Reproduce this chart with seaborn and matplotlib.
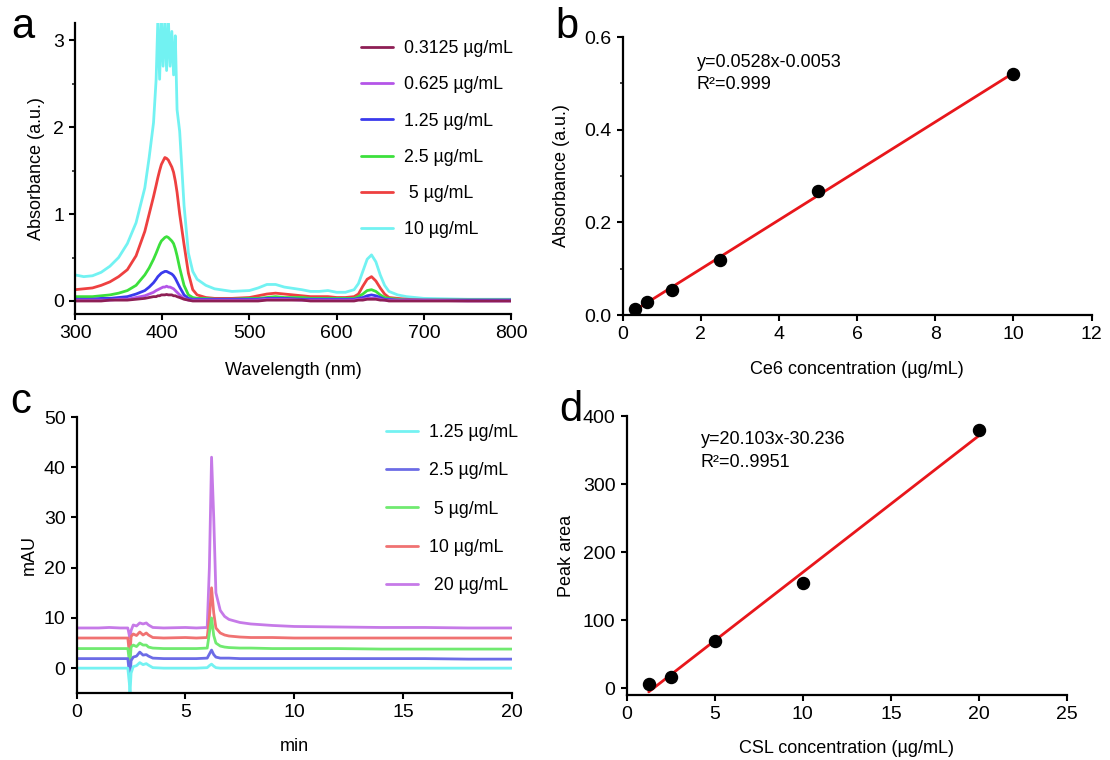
import numpy as np
import pandas as pd
import matplotlib
matplotlib.use("Agg")
import matplotlib.pyplot as plt
import seaborn as sns
from matplotlib.ticker import MultipleLocator

# ---- panel a: UV-vis spectra of Ce6 ----
wavelength = [300, 310, 320, 330, 340, 350, 360, 370, 380, 385,
              390, 393, 395, 397, 399, 401, 403, 405, 407, 409,
              411, 413, 415, 417, 420, 425, 430, 435, 440, 450,
              460, 480, 500, 510, 520, 530, 540, 560, 570, 580,
              590, 600, 610, 620, 625, 630, 635, 640, 645, 650,
              655, 660, 670, 680, 700, 750, 800]
abs_10 = [0.30, 0.28, 0.29, 0.33, 0.40, 0.50, 0.66, 0.90, 1.30, 1.65,
          2.05, 2.55, 3.25, 2.55, 3.25, 2.70, 3.25, 2.65, 3.25, 2.70,
          3.10, 2.60, 3.05, 2.20, 1.95, 1.10, 0.55, 0.34, 0.25, 0.18,
          0.14, 0.11, 0.12, 0.15, 0.19, 0.19, 0.16, 0.13, 0.11, 0.11,
          0.12, 0.10, 0.10, 0.13, 0.20, 0.34, 0.48, 0.53, 0.45, 0.30,
          0.18, 0.11, 0.07, 0.05, 0.03, 0.02, 0.02]
abs_5 = [0.13, 0.14, 0.15, 0.18, 0.22, 0.28, 0.36, 0.52, 0.80, 1.00,
         1.20, 1.33, 1.42, 1.50, 1.57, 1.61, 1.65, 1.64, 1.62, 1.58,
         1.54, 1.48, 1.38, 1.25, 1.00, 0.65, 0.32, 0.13, 0.07, 0.04,
         0.03, 0.03, 0.04, 0.06, 0.08, 0.09, 0.08, 0.06, 0.05, 0.05,
         0.05, 0.04, 0.04, 0.05, 0.08, 0.17, 0.25, 0.28, 0.23, 0.15,
         0.08, 0.04, 0.03, 0.02, 0.01, 0.01, 0.01]
abs_2_5 = [0.05, 0.05, 0.05, 0.06, 0.07, 0.09, 0.12, 0.18, 0.30, 0.38,
           0.48, 0.55, 0.60, 0.65, 0.69, 0.71, 0.73, 0.74, 0.73, 0.71,
           0.69, 0.66, 0.60, 0.52, 0.38, 0.18, 0.07, 0.04, 0.03, 0.03,
           0.02, 0.02, 0.03, 0.03, 0.04, 0.05, 0.04, 0.04, 0.03, 0.03,
           0.03, 0.03, 0.03, 0.03, 0.05, 0.08, 0.12, 0.13, 0.11, 0.07,
           0.04, 0.03, 0.02, 0.01, 0.01, 0.01, 0.01]
abs_1_25 = [0.02, 0.02, 0.02, 0.03, 0.03, 0.04, 0.05, 0.08, 0.12, 0.16,
            0.21, 0.25, 0.28, 0.30, 0.32, 0.33, 0.34, 0.34, 0.33, 0.32,
            0.31, 0.29, 0.26, 0.22, 0.16, 0.07, 0.03, 0.02, 0.02, 0.02,
            0.02, 0.02, 0.02, 0.02, 0.03, 0.03, 0.03, 0.02, 0.02, 0.02,
            0.02, 0.02, 0.02, 0.02, 0.03, 0.04, 0.06, 0.07, 0.06, 0.04,
            0.02, 0.02, 0.01, 0.01, 0.01, 0.01, 0.01]
abs_0_625 = [0.01, 0.01, 0.01, 0.01, 0.01, 0.02, 0.02, 0.04, 0.06, 0.08,
             0.10, 0.12, 0.13, 0.14, 0.15, 0.16, 0.16, 0.17, 0.16, 0.16,
             0.15, 0.14, 0.12, 0.10, 0.07, 0.03, 0.01, 0.01, 0.01, 0.01,
             0.01, 0.01, 0.01, 0.01, 0.02, 0.02, 0.02, 0.01, 0.01, 0.01,
             0.01, 0.01, 0.01, 0.01, 0.02, 0.02, 0.03, 0.03, 0.03, 0.02,
             0.01, 0.01, 0.01, 0.01, 0.01, 0.00, 0.00]
abs_0_3125 = [0.00, 0.00, 0.00, 0.00, 0.01, 0.01, 0.01, 0.02, 0.03, 0.04,
              0.05, 0.05, 0.06, 0.06, 0.07, 0.07, 0.07, 0.075, 0.07, 0.07,
              0.07, 0.06, 0.06, 0.05, 0.04, 0.02, 0.01, 0.00, 0.00, 0.00,
              0.00, 0.00, 0.00, 0.00, 0.01, 0.01, 0.01, 0.01, 0.00, 0.00,
              0.00, 0.00, 0.00, 0.00, 0.01, 0.01, 0.02, 0.02, 0.02, 0.01,
              0.01, 0.00, 0.00, 0.00, 0.00, 0.00, 0.00]
spec_labels = ["0.3125 µg/mL", "0.625 µg/mL", "1.25 µg/mL", "2.5 µg/mL", " 5 µg/mL", "10 µg/mL"]
spec_values = [abs_0_3125, abs_0_625, abs_1_25, abs_2_5, abs_5, abs_10]
spec_colors = ["#8e1f55", "#b455e8", "#3a3aec", "#3ce03c", "#ee4040", "#72f2f2"]

# ---- panel b: Ce6 standard curve ----
ce6_conc = [0.3125, 0.625, 1.25, 2.5, 5, 10]
ce6_abs = [0.013, 0.029, 0.055, 0.119, 0.267, 0.520]

# ---- panel c: HPLC chromatograms ----
time_min = [0, 1, 1.5, 2, 2.35, 2.42, 2.45, 2.5, 2.6, 2.75,
            2.9, 3.05, 3.2, 3.3, 3.5, 4, 5, 5.5, 6.0, 6.1,
            6.2, 6.3, 6.4, 6.6, 6.8, 7, 7.5, 8, 9, 10,
            12, 14, 16, 18, 20]
mau_20 = [8.0, 8.0, 8.1, 8.0, 8.0, 6.5, 6.0, 7.5, 8.6, 8.4,
          9.0, 8.8, 9.0, 8.6, 8.1, 8.0, 8.1, 8.0, 8.1, 20.0,
          42.0, 30.0, 15.0, 11.5, 10.3, 9.7, 9.1, 8.8, 8.5, 8.3,
          8.2, 8.1, 8.1, 8.0, 8.0]
mau_10 = [6.0, 6.0, 6.0, 6.0, 6.0, 3.0, 2.5, 6.3, 6.8, 6.5,
          7.2, 6.6, 7.0, 6.6, 6.1, 6.0, 6.1, 6.0, 6.1, 10.0,
          16.0, 11.0, 8.0, 7.0, 6.6, 6.4, 6.2, 6.1, 6.1, 6.0,
          6.0, 6.0, 6.0, 6.0, 6.0]
mau_5 = [3.9, 3.9, 3.9, 3.9, 3.9, 1.5, 1.0, 4.2, 4.6, 4.3,
         5.0, 4.6, 4.6, 4.2, 4.0, 3.9, 3.9, 3.9, 4.0, 7.0,
         10.0, 6.5, 5.0, 4.4, 4.2, 4.1, 4.0, 4.0, 3.9, 3.9,
         3.9, 3.8, 3.8, 3.8, 3.8]
mau_2_5 = [1.9, 1.9, 1.9, 1.9, 1.9, -1.0, -2.0, 1.5, 2.2, 2.4,
           3.2, 2.6, 2.7, 2.4, 2.0, 1.9, 1.9, 1.9, 2.0, 2.8,
           3.6, 2.7, 2.2, 2.0, 2.0, 2.0, 1.9, 1.9, 1.9, 1.9,
           1.9, 1.9, 1.9, 1.8, 1.8]
mau_1_25 = [0.0, 0.0, 0.0, 0.0, 0.0, -3.0, -5.0, -1.0, 0.3, 0.5,
            1.1, 0.7, 0.9, 0.6, 0.1, 0.0, 0.0, 0.0, 0.1, 0.5,
            0.8, 0.4, 0.1, 0.0, 0.0, 0.0, 0.0, 0.0, 0.0, 0.0,
            0.0, 0.0, 0.0, 0.0, 0.0]
hplc_labels = ["1.25 µg/mL", "2.5 µg/mL", " 5 µg/mL", "10 µg/mL", " 20 µg/mL"]
hplc_values = [mau_1_25, mau_2_5, mau_5, mau_10, mau_20]
hplc_colors = ["#74f2f2", "#6c6ce6", "#70ea70", "#f07272", "#c67ae8"]

# ---- panel d: CSL standard curve ----
csl_conc = [1.25, 2.5, 5, 10, 20]
csl_area = [6.4, 17, 69, 154.5, 379]

sns.set_style("ticks")
plt.rcParams['font.family'] = ['Liberation Sans', 'DejaVu Sans']
plt.rcParams['axes.edgecolor'] = 'black'
plt.rcParams['text.color'] = 'black'
plt.rcParams['axes.labelcolor'] = 'black'

TICK_FS = 14
LABEL_FS = 13
LEG_FS = 12.8

fig = plt.figure(figsize=(11.1, 7.6), dpi=100)
ax_a = fig.add_axes([0.0676, 0.5868, 0.3928, 0.3833])
ax_b = fig.add_axes([0.5610, 0.5855, 0.4224, 0.3658])
ax_c = fig.add_axes([0.0691, 0.0878, 0.3919, 0.3635])
ax_d = fig.add_axes([0.5646, 0.0855, 0.3967, 0.3671])


def style(ax):
    for s in ['top', 'right']:
        ax.spines[s].set_visible(False)
    for s in ['left', 'bottom']:
        ax.spines[s].set_linewidth(1.6)
        ax.spines[s].set_color('black')
    ax.tick_params(which='major', direction='out', length=4, width=1.5,
                   labelsize=TICK_FS, pad=4, colors='black')
    ax.tick_params(which='minor', direction='out', length=2.5, width=1.2)


# panel a
for vals, lab, col in reversed(list(zip(spec_values, spec_labels, spec_colors))):
    sns.lineplot(x=wavelength, y=vals, color=col, lw=2, label=lab, ax=ax_a)
ax_a.set_xlim(300, 800)
ax_a.set_ylim(-0.15, 3.2)
ax_a.set_xticks([300, 400, 500, 600, 700, 800])
ax_a.set_yticks([0, 1, 2, 3])
ax_a.yaxis.set_minor_locator(MultipleLocator(0.5))
style(ax_a)
ax_a.set_xlabel("Wavelength (nm)", fontsize=LABEL_FS, labelpad=14)
ax_a.set_ylabel("Absorbance (a.u.)", fontsize=LABEL_FS, labelpad=6)
h, l = ax_a.get_legend_handles_labels()
ax_a.legend(h[::-1], l[::-1], loc='upper left', bbox_to_anchor=(0.657, 0.94),
            frameon=False, fontsize=LEG_FS, handlelength=1.8, handletextpad=0.6,
            labelspacing=1.08, borderpad=0, borderaxespad=0)

# panel b
sns.regplot(x=ce6_conc, y=ce6_abs, ci=None, ax=ax_b,
            scatter_kws=dict(s=75, color='black', zorder=3, alpha=1),
            line_kws=dict(color='#e8161b', lw=2, zorder=2))
ax_b.set_xlim(0, 12)
ax_b.set_ylim(0, 0.6)
ax_b.set_xticks(range(0, 13, 2))
ax_b.set_yticks([0, 0.2, 0.4, 0.6])
ax_b.set_yticklabels(["0.0", "0.2", "0.4", "0.6"])
ax_b.yaxis.set_minor_locator(MultipleLocator(0.1))
style(ax_b)
ax_b.set_xlabel("Ce6 concentration (µg/mL)", fontsize=LABEL_FS, labelpad=13)
ax_b.set_ylabel("Absorbance (a.u.)", fontsize=LABEL_FS, labelpad=10)
ax_b.text(1.9, 0.546, "y=0.0528x-0.0053", fontsize=13, va='center')
ax_b.text(1.9, 0.497, "R²=0.999", fontsize=13, va='center')

# panel c
for vals, lab, col in reversed(list(zip(hplc_values, hplc_labels, hplc_colors))):
    sns.lineplot(x=time_min, y=vals, color=col, lw=2, label=lab, ax=ax_c)
ax_c.set_xlim(0, 20)
ax_c.set_ylim(-5, 50)
ax_c.set_xticks([0, 5, 10, 15, 20])
ax_c.set_yticks([0, 10, 20, 30, 40, 50])
style(ax_c)
ax_c.set_xlabel("min", fontsize=LABEL_FS, labelpad=12)
ax_c.set_ylabel("mAU", fontsize=LABEL_FS, labelpad=4)
h, l = ax_c.get_legend_handles_labels()
ax_c.legend(h[::-1], l[::-1], loc='upper left', bbox_to_anchor=(0.711, 0.975),
            frameon=False, fontsize=LEG_FS, handlelength=1.8, handletextpad=0.6,
            labelspacing=1.2, borderpad=0, borderaxespad=0)

# panel d
sns.regplot(x=csl_conc, y=csl_area, ci=None, ax=ax_d,
            scatter_kws=dict(s=75, color='black', zorder=3, alpha=1),
            line_kws=dict(color='#e8161b', lw=2, zorder=2))
ax_d.set_xlim(0, 25)
ax_d.set_ylim(-10, 400)
ax_d.set_xticks([0, 5, 10, 15, 20, 25])
ax_d.set_yticks([0, 100, 200, 300, 400])
style(ax_d)
ax_d.set_xlabel("CSL concentration (µg/mL)", fontsize=LABEL_FS, labelpad=12)
ax_d.set_ylabel("Peak area", fontsize=LABEL_FS, labelpad=6)
ax_d.text(4.2, 365, "y=20.103x-30.236", fontsize=13, va='center')
ax_d.text(4.2, 331, "R²=0..9951", fontsize=13, va='center')

# panel letters
for letter, x, y in [("a", 11, 38), ("b", 555, 38), ("c", 10, 413), ("d", 559, 421)]:
    fig.text(x / 1110, 1 - y / 760, letter, fontsize=30, va='baseline', ha='left')

fig.savefig("out.png", dpi=100)
